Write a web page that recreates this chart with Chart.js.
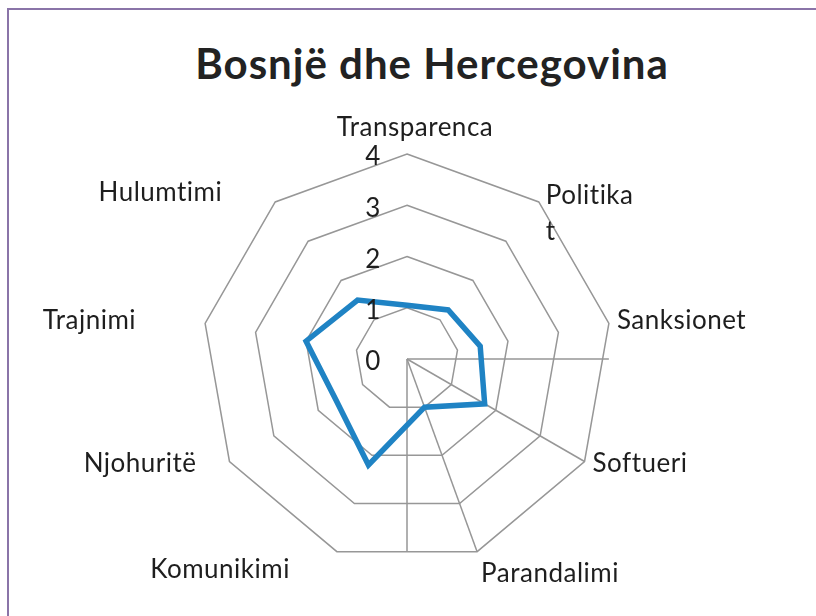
<!DOCTYPE html>
<html>
<head>
<meta charset="utf-8">
<script src="https://cdn.jsdelivr.net/npm/chart.js@4"></script>
<style>
  html, body { margin: 0; padding: 0; background: #fff; }
  #wrap { position: relative; width: 816px; height: 616px; overflow: hidden; }
  #frame { position: absolute; left: 7px; top: 8px; width: 900px; height: 700px;
           border-left: 2px solid #8a74a8; border-top: 2px solid #8a74a8; }
  #title { position: absolute; left: 0; top: 42px; width: 864px; text-align: center;
           font: bold 42px Lato, sans-serif; line-height: 42px; letter-spacing: 1px; color: #222; }
  canvas { position: absolute; left: 0; top: 0; }
</style>
</head>
<body>
<div id="wrap">
  <div id="frame"></div>
  <div id="title">Bosnjë dhe Hercegovina</div>
  <canvas id="radar" width="816" height="616"></canvas>
</div>
<script>
// categories, clockwise from the top
const categories = ['Transparenca', ['Politika', 't'], 'Sanksionet', 'Softueri', 'Parandalimi',
  'Komunikimi', 'Njohuritë', 'Trajnimi', 'Hulumtimi'];
const scores = [1.05, 1.25, 1.45, 1.75, 1.0, 2.2, 1.6, 2.0, 1.5];
const tickValues = [0, 1, 2, 3, 4];

const gridColor = '#979797';
const textColor = '#1e1e1e';
const labelFont = '26px Lato, sans-serif';

// label placement relative to each outer vertex
const labelPlace = [
  { dx: 8, dy: -26, align: 'center' },
  { dx: 7, dy: -6, align: 'left' },
  { dx: 8, dy: -3, align: 'left' },
  { dx: 8, dy: 2, align: 'left' },
  { dx: 4, dy: 22, align: 'left' },
  { dx: -47, dy: 18, align: 'right' },
  { dx: -33, dy: 2, align: 'right' },
  { dx: -69, dy: -3, align: 'right' },
  { dx: -53, dy: -9, align: 'right' }
];

const extras = {
  id: 'extras',
  beforeDatasetsDraw(chart) {
    const s = chart.scales.r;
    const ctx = chart.ctx;
    const cx = s.xCenter, cy = s.yCenter;
    const right = s.getPointPosition(2, s.drawingArea);
    const down = s.getPointPosition(4, s.drawingArea);
    ctx.save();
    ctx.strokeStyle = gridColor;
    ctx.lineWidth = 1.5;
    ctx.beginPath();
    ctx.moveTo(cx, cy); ctx.lineTo(right.x, cy);
    ctx.moveTo(cx, cy); ctx.lineTo(cx, down.y);
    ctx.stroke();
    ctx.restore();
  },
  afterDraw(chart) {
    const s = chart.scales.r;
    const ctx = chart.ctx;
    ctx.save();
    ctx.fillStyle = textColor;
    ctx.font = labelFont;
    if ('letterSpacing' in ctx) ctx.letterSpacing = '0.5px';
    ctx.textBaseline = 'middle';
    ctx.textAlign = 'center';
    tickValues.forEach(v => {
      const d = s.getDistanceFromCenterForValue(v);
      ctx.fillText(String(v), s.xCenter - 34, s.yCenter - d + 3);
    });
    chart.data.labels.forEach((lab, i) => {
      const p = s.getPointPosition(i, s.drawingArea);
      const pl = labelPlace[i];
      ctx.textAlign = pl.align;
      const lines = Array.isArray(lab) ? lab : [lab];
      lines.forEach((ln, k) => {
        ctx.fillText(ln, p.x + pl.dx, p.y + pl.dy + k * 36);
      });
    });
    ctx.restore();
  }
};

new Chart(document.getElementById('radar'), {
  type: 'radar',
  data: {
    labels: categories,
    datasets: [{
      data: scores,
      borderColor: '#1f83c4',
      borderWidth: 5.5,
      fill: false,
      pointRadius: 0,
      pointHoverRadius: 0,
      tension: 0
    }]
  },
  options: {
    responsive: false,
    animation: false,
    layout: { padding: { top: 154, bottom: 52, left: 0, right: 2 } },
    plugins: { legend: { display: false }, tooltip: { enabled: false } },
    scales: {
      r: {
        min: 0,
        max: 4,
        ticks: { stepSize: 1, display: false },
        pointLabels: { display: false },
        grid: { color: gridColor, lineWidth: 1.5 },
        angleLines: {
          display: true,
          lineWidth: 1.5,
          color: ctx => (ctx.index === 3 || ctx.index === 4) ? gridColor : 'rgba(0,0,0,0)'
        }
      }
    }
  },
  plugins: [extras]
});
</script>
</body>
</html>
